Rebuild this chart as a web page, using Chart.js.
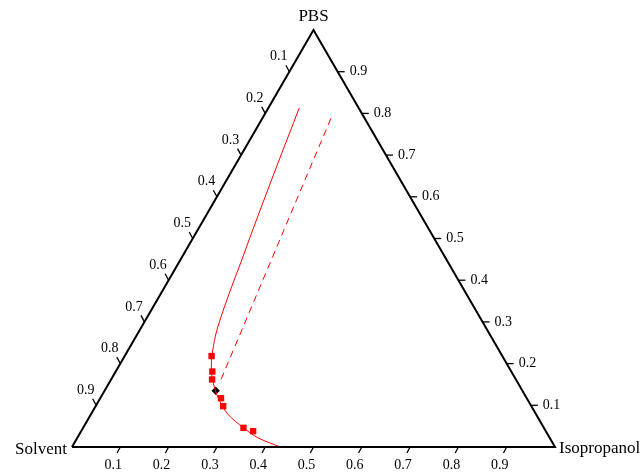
<!DOCTYPE html>
<html>
<head>
<meta charset="utf-8">
<script src="https://cdn.jsdelivr.net/npm/chart.js@4/dist/chart.umd.min.js"></script>
<style>
  body{margin:0;background:#fff;}
  canvas{display:block;}
</style>
</head>
<body>
<canvas id="chart" width="641" height="476"></canvas>
<script>
// ternary data: iso = isopropanol fraction, pbs = PBS fraction (solvent = 1 - iso - pbs)
const vertexNames = ["Solvent", "Isopropanol", "PBS"];
const tickValues = [0.1, 0.2, 0.3, 0.4, 0.5, 0.6, 0.7, 0.8, 0.9];
const tickLabels = ["0.1", "0.2", "0.3", "0.4", "0.5", "0.6", "0.7", "0.8", "0.9"];

// binodal curve (solid)
const curveIso = [0.064, 0.088, 0.114, 0.128, 0.139, 0.150, 0.161, 0.175, 0.190, 0.207, 0.228, 0.248, 0.283, 0.332, 0.374, 0.431];
const curvePbs = [0.813, 0.669, 0.520, 0.444, 0.381, 0.324, 0.276, 0.233, 0.197, 0.166, 0.137, 0.113, 0.079, 0.046, 0.022, 0.000];

// tie line (dashed)
const tieIso = [0.142, 0.229];
const tiePbs = [0.788, 0.151];

// experimental points (red squares)
const expIso = [0.180, 0.200, 0.209, 0.250, 0.264, 0.332, 0.356];
const expPbs = [0.218, 0.181, 0.162, 0.117, 0.098, 0.046, 0.038];

// plait point (black)
const plaitIso = [0.230];
const plaitPbs = [0.135];

const H = Math.sqrt(3) / 2;
function toXY(iso, pbs){
  return iso.map((a, i) => ({x: a + pbs[i] / 2, y: pbs[i] * H}));
}

const frame = toXY([0, 1, 0, 0], [0, 0, 1, 0]);

const ternaryAxes = {
  id: "ternaryAxes",
  afterDatasetsDraw(chart){
    const ctx = chart.ctx;
    const sx = chart.scales.x, sy = chart.scales.y;
    const px = (a, b) => [sx.getPixelForValue(a + b / 2), sy.getPixelForValue(b * H)];
    ctx.save();
    ctx.strokeStyle = "#000";
    ctx.fillStyle = "#000";
    ctx.lineWidth = 1.3;
    ctx.font = '14px "Liberation Serif"';
    ctx.textBaseline = "middle";
    const seg = (x1, y1, x2, y2) => { ctx.beginPath(); ctx.moveTo(x1, y1); ctx.lineTo(x2, y2); ctx.stroke(); };
    tickValues.forEach((t, i) => {
      const lab = tickLabels[i];
      // bottom: isopropanol
      let [bx, by] = px(t, 0);
      seg(bx, by, bx - 3.2, by + 6);
      ctx.textAlign = "center";
      ctx.fillText(lab, bx - 7, by + 18);
      // right: PBS
      let [rx, ry] = px(1 - t, t);
      seg(rx, ry, rx + 7, ry);
      ctx.textAlign = "left";
      ctx.fillText(lab, rx + 12, ry);
      // left: solvent
      let [lx, ly] = px(0, 1 - t);
      seg(lx, ly, lx - 3.5, ly - 6.5);
      ctx.textAlign = "center";
      ctx.fillText(lab, lx - 10.5, ly - 15);
    });
    ctx.font = '17px "Liberation Serif"';
    ctx.textBaseline = "alphabetic";
    let [x0, y0] = px(0, 0);
    ctx.textAlign = "right";
    ctx.fillText(vertexNames[0], x0 - 5, y0 + 7);
    let [x1, y1] = px(1, 0);
    ctx.textAlign = "left";
    ctx.fillText(vertexNames[1], x1 + 4, y1 + 6);
    let [x2, y2] = px(0, 1);
    ctx.textAlign = "center";
    ctx.fillText(vertexNames[2], x2, y2 - 9);
    ctx.restore();
  }
};

new Chart(document.getElementById("chart").getContext("2d"), {
  type: "scatter",
  data: {
    datasets: [
      {data: frame, showLine: true, borderColor: "#000", borderWidth: 2, pointRadius: 0, clip: false},
      {data: toXY(curveIso, curvePbs), showLine: true, borderColor: "#ff0000", borderWidth: 1, pointRadius: 0, tension: 0.3, clip: false},
      {data: toXY(tieIso, tiePbs), showLine: true, borderColor: "#ff0000", borderWidth: 1, borderDash: [7, 5], pointRadius: 0, clip: false},
      {data: toXY(expIso, expPbs), pointStyle: "rect", pointRadius: 4.5, backgroundColor: "#ff0000", borderColor: "#ff0000", borderWidth: 0, clip: false},
      {data: toXY(plaitIso, plaitPbs), pointStyle: "rectRot", pointRadius: 4.2, backgroundColor: "#000", borderColor: "#000", borderWidth: 0, clip: false}
    ]
  },
  options: {
    responsive: false,
    animation: false,
    devicePixelRatio: 1,
    layout: {padding: {left: 72, right: 86, top: 30, bottom: 29}},
    scales: {
      x: {type: "linear", min: 0, max: 1, display: false},
      y: {type: "linear", min: 0, max: H, display: false}
    },
    plugins: {legend: {display: false}, tooltip: {enabled: false}}
  },
  plugins: [ternaryAxes]
});
</script>
</body>
</html>
